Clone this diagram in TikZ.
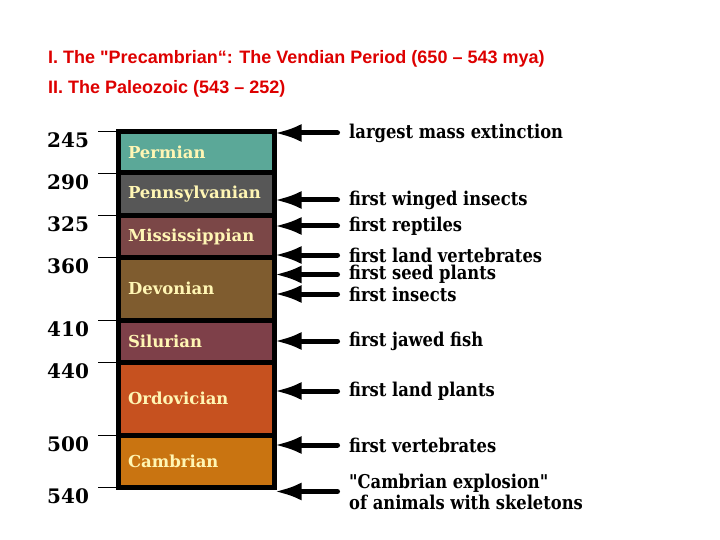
\documentclass[tikz,border=0pt]{standalone}
\usepackage{fontspec}
\setmainfont{DejaVu Serif}
\newfontfamily\titlefont{Liberation Sans}
\newfontfamily\slabfont[FakeStretch=0.86]{DejaVu Serif}
\usetikzlibrary{positioning, arrows.meta}
\definecolor{titlered}{HTML}{DD0000}
\definecolor{labelcream}{HTML}{FFF6B4}
\definecolor{permcol}{HTML}{5BA898}
\definecolor{penncol}{HTML}{575757}
\definecolor{misscol}{HTML}{7B4747}
\definecolor{devocol}{HTML}{7F5C2F}
\definecolor{silucol}{HTML}{7E4049}
\definecolor{ordocol}{HTML}{C6511F}
\definecolor{cambcol}{HTML}{C97411}
\tikzset{
  % one block of the time column
  period/.style={rectangle, draw=black, line width=5pt, fill=#1,
                 outer sep=0pt, inner xsep=9.5pt, inner ysep=0pt,
                 text width=137pt, align=left, text=labelcream,
                 font=\rmfamily\bfseries\fontsize{16.5}{18}\selectfont},
  % millions of years at a boundary
  year/.style={anchor=north west, inner sep=0pt,
               font=\rmfamily\bfseries\fontsize{20}{22}\selectfont},
  % event written right of the column
  event/.style={anchor=west, inner sep=0pt, align=left,
                font=\slabfont\bfseries\fontsize{19}{21}\selectfont},
  heading/.style={anchor=west, inner sep=0pt, text=titlered,
                  font=\titlefont\bfseries\fontsize{18}{20}\selectfont},
  bigarrow/.style={line width=5pt, line cap=round,
                   -{Latex[length=27pt,width=18pt]}},
  tick/.style={line width=0.8pt},
}

\begin{document}
\begin{tikzpicture}[x=1pt, y=-1pt]
  \useasboundingbox (0,0) rectangle (720,540);

  \node[heading] (head1) at (48,59)
    {I. The "Precambrian“: The Vendian Period (650 – 543 mya)};
  \node[heading] (head2) at (48,89) {II. The Paleozoic (543 – 252)};

  % the column
  \node[period=permcol, minimum height=41.5pt] (perm) at (196.5,152.25) {Permian};
  \node[period=penncol, minimum height=42.5pt, below=0pt of perm] (penn) {Pennsylvanian};
  \node[period=misscol, minimum height=42pt, below=0pt of penn] (miss) {Mississippian};
  \node[period=devocol, minimum height=62.5pt, below=0pt of miss] (devo) {Devonian};
  \node[period=silucol, minimum height=42.5pt, below=0pt of devo] (silu) {Silurian};
  \node[period=ordocol, minimum height=72.5pt, below=0pt of silu] (ordo) {Ordovician};
  \node[period=cambcol, minimum height=52.5pt, below=0pt of ordo] (camb) {Cambrian};

  \foreach \p/\yr in {perm/245, penn/290, miss/325, devo/360,
                      silu/410, ordo/440, camb/500} {
    \draw[tick] (\p.north west) -- ++(-21,0);
    \node[year] (yr\yr) at ([xshift=-71.5pt,yshift=-1pt]\p.north west) {\yr};
  }
  \draw[tick] (camb.south west) -- ++(-21,0);
  \node[year] (yr540) at ([xshift=-71.5pt,yshift=-1pt]camb.south west) {540};

  % events
  \node[event] (extinct) at (349,133) {largest mass extinction};
  \node[event] (wing)    at (349,200) {first winged insects};
  \node[event] (rept)    at (349,226) {first reptiles};
  \node[event] (landv)   at (349,255) {first land vertebrates};
  \node[event] (seed)    at (349,274.5) {first seed plants};
  \node[event] (insect)  at (349,294) {first insects};
  \node[event] (jawfish) at (349,341) {first jawed fish};
  \node[event] (landpl)  at (349,391) {first land plants};
  \node[event] (vert)    at (349,445) {first vertebrates};
  \node[event] (explo)   at (349,491.5)
    {"Cambrian explosion"\\of animals with skeletons};

  \foreach \e in {extinct, wing, rept, landv, seed, insect,
                  jawfish, landpl, vert, explo}
    \draw[bigarrow] ([xshift=-11.5pt]\e.west) -- (\e.west -| perm.east);
\end{tikzpicture}
\end{document}
